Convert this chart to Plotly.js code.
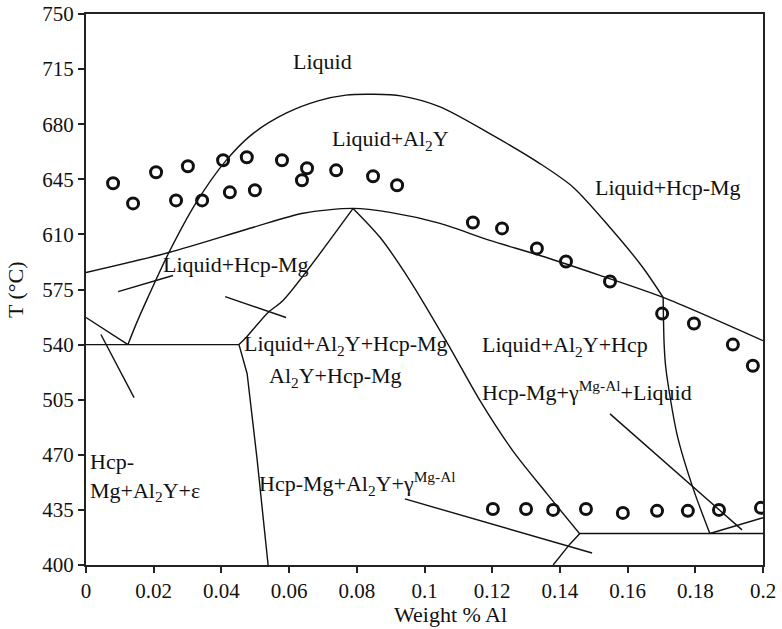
<!DOCTYPE html>
<html>
<head>
<meta charset="utf-8">
<script src="https://cdn.plot.ly/plotly-3.0.1.min.js"></script>
<style>html,body{margin:0;padding:0;background:#fff;}#chart{width:782px;height:629px;}</style>
</head>
<body>
<div id="chart"></div>
<script>
// ---- data (weight fraction Al, temperature °C) ----
const xTicks = [0, 0.02, 0.04, 0.06, 0.08, 0.1, 0.12, 0.14, 0.16, 0.18, 0.2];
const yTicks = [400, 435, 470, 505, 540, 575, 610, 645, 680, 715, 750];

// measured points (open circles)
const expX = [0.0080, 0.0139, 0.0207, 0.0266, 0.0301, 0.0343, 0.0405, 0.0425, 0.0475, 0.0499,
              0.0579, 0.0638, 0.0653, 0.0739, 0.0848, 0.0919, 0.1143, 0.1229, 0.1332, 0.1418,
              0.1548, 0.1702, 0.1796, 0.1911, 0.1970,
              0.1202, 0.1300, 0.1380, 0.1477, 0.1586, 0.1687, 0.1778, 0.1870, 0.1994];
const expT = [642.5, 629.7, 649.5, 631.6, 653.3, 631.6, 657.1, 636.7, 659.0, 638.0,
              657.1, 644.4, 652.0, 650.7, 646.9, 641.2, 617.6, 613.8, 601.1, 592.8,
              580.1, 559.7, 553.4, 540.0, 526.6,
              435.6, 435.6, 435.0, 435.6, 433.1, 434.4, 434.4, 435.0, 436.3];

// Al2Y liquidus dome (upper part, smooth)
const domeX = [0.0124, 0.0148, 0.0183, 0.0245, 0.0325, 0.0414, 0.0493, 0.0591, 0.0688, 0.0768,
               0.0850, 0.0930, 0.1046, 0.1193, 0.1341, 0.1439, 0.1548, 0.1645, 0.1705];
const domeT = [540, 553, 570, 598.5, 630, 657, 674, 687, 695, 698.5,
               699, 698, 691, 674, 655, 640, 614.4, 589, 570];
// lower continuation of the dome
const domeLowX = [0.1705, 0.1708, 0.1713, 0.1746, 0.1793, 0.1843];
const domeLowT = [570, 540, 525, 483, 449, 420];

// Hcp-Mg liquidus
const hcpX = [0, 0.0245, 0.0493, 0.0641, 0.0789, 0.0898, 0.1046, 0.1193, 0.1341, 0.1518, 0.1705, 0.2];
const hcpT = [585.8, 598.5, 614.4, 623.4, 626.5, 624, 617, 606.2, 596.6, 584, 570, 542.5];

// boundaries from the peak
const peakLeftX = [0.0789, 0.0582, 0.0538, 0.0473, 0.0452];
const peakLeftT = [626.5, 568, 560.4, 544.5, 540];
const peakRightX = [0.0789, 0.0869, 0.0957, 0.1070, 0.1164, 0.1261, 0.1362, 0.1459];
const peakRightT = [626.5, 608, 580.7, 540, 504.4, 472.5, 445.2, 419.7];

// other phase boundaries
const eutLineX = [0, 0.0452];            const eutLineT = [540, 540];
const leftBoundX = [0, 0.0124];          const leftBoundT = [557.2, 540];
const solvusX = [0.0452, 0.0476, 0.0505, 0.0538]; const solvusT = [540, 521.5, 468, 400];
const lowHorzX = [0.1459, 0.2];          const lowHorzT = [420, 420];
const lowLeftX = [0.1459, 0.1430, 0.1380]; const lowLeftT = [420, 413.4, 400];
const lowRightX = [0.1843, 0.2];         const lowRightT = [420, 430];

// leader lines
const lead1X = [0.0095, 0.0257]; const lead1T = [573.7, 583.9];
const lead2X = [0.0411, 0.0591]; const lead2T = [570.5, 557.2];
const lead3X = [0.0044, 0.0142]; const lead3T = [546.4, 506.3];
const lead4X = [0.0942, 0.1495]; const lead4T = [442, 407.6];
const lead5X = [0.1548, 0.1938]; const lead5T = [496, 422.3];

// ---- drawing ----
const curves = [
  [domeX, domeT, 'spline'], [domeLowX, domeLowT, 'spline'], [hcpX, hcpT, 'spline'],
  [peakLeftX, peakLeftT, 'spline'], [peakRightX, peakRightT, 'spline'],
  [eutLineX, eutLineT], [leftBoundX, leftBoundT], [solvusX, solvusT],
  [lowHorzX, lowHorzT], [lowLeftX, lowLeftT], [lowRightX, lowRightT],
  [lead1X, lead1T], [lead2X, lead2T], [lead3X, lead3T], [lead4X, lead4T], [lead5X, lead5T]
];
const traces = curves.map(c => ({
  x: c[0], y: c[1], type: 'scatter', mode: 'lines',
  line: {color: '#111', width: 1.4, shape: c[2] || 'linear', smoothing: 0.8},
  hoverinfo: 'skip', showlegend: false
}));
traces.push({
  x: expX, y: expT, type: 'scatter', mode: 'markers', showlegend: false,
  marker: {symbol: 'circle-open', size: 11, color: '#111', line: {width: 3, color: '#111'}}
});

const F = 'Liberation Serif, DejaVu Serif, serif';
const lab = (text, x, y, xa) => ({
  text: text, x: x, y: y, xref: 'x', yref: 'y', showarrow: false,
  xanchor: xa || 'center', yanchor: 'middle', align: 'left',
  font: {family: F, size: 22, color: '#111'}
});

const layout = {
  width: 782, height: 629,
  margin: {l: 86, r: 19, t: 14, b: 64},
  paper_bgcolor: '#fff', plot_bgcolor: '#fff',
  font: {family: F, size: 21, color: '#111'},
  xaxis: {
    range: [0, 0.2], tickvals: xTicks, ticktext: xTicks.map(String),
    showgrid: false, zeroline: false, showline: true, mirror: true,
    linecolor: '#222', linewidth: 2, ticks: 'outside', ticklen: 6, tickwidth: 1.5, tickcolor: '#222',
    tickfont: {family: F, size: 21, color: '#111'}
  },
  yaxis: {
    range: [400, 750], tickvals: yTicks, ticktext: yTicks.map(String),
    showgrid: false, zeroline: false, showline: true, mirror: true,
    linecolor: '#222', linewidth: 2, ticks: 'outside', ticklen: 6, tickwidth: 1.5, tickcolor: '#222',
    tickfont: {family: F, size: 21, color: '#111'}
  },
  annotations: [
    lab('Liquid', 0.070, 720),
    lab('Liquid+Al<sub>2</sub>Y', 0.0901, 670),
    lab('Liquid+Hcp-Mg', 0.1719, 640),
    lab('Liquid+Hcp-Mg', 0.0443, 591),
    lab('Liquid+Al<sub>2</sub>Y+Hcp-Mg', 0.0461, 540, 'left'),
    lab('Al<sub>2</sub>Y+Hcp-Mg', 0.0535, 519.6, 'left'),
    lab('Hcp-<br>Mg+Al<sub>2</sub>Y+ε', 0.0006, 455.7, 'left'),
    lab('Hcp-Mg+Al<sub>2</sub>Y+γ<sup>Mg-Al</sup>', 0.0505, 451.5, 'left'),
    lab('Liquid+Al<sub>2</sub>Y+Hcp', 0.1164, 539.4, 'left'),
    lab('Hcp-Mg+γ<sup>Mg-Al</sup>+Liquid', 0.1164, 510.7, 'left'),
    {text: 'T (°C)', xref: 'paper', yref: 'paper', x: -0.104, y: 0.5, textangle: -90,
     showarrow: false, xanchor: 'center', yanchor: 'middle', font: {family: F, size: 22, color: '#111'}},
    {text: 'Weight % Al', xref: 'paper', yref: 'paper', x: 0.5377, y: -0.0907,
     showarrow: false, xanchor: 'center', yanchor: 'middle', font: {family: F, size: 22, color: '#111'}}
  ]
};

Plotly.newPlot('chart', traces, layout, {displayModeBar: false});
</script>
</body>
</html>
